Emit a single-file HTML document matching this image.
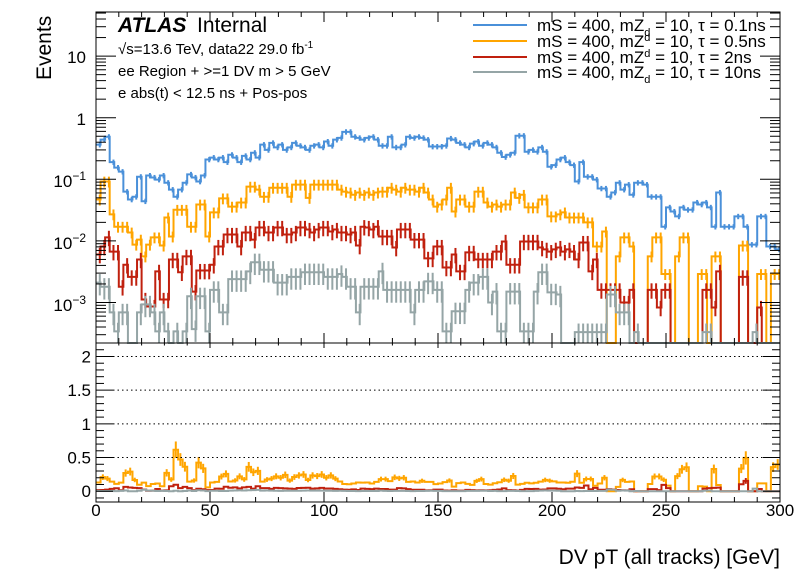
<!DOCTYPE html>
<html><head><meta charset="utf-8"><style>
body{margin:0;background:#fff;}
svg{display:block;font-family:"Liberation Sans",sans-serif;}
</style></head><body>
<svg id="c" width="796" height="572" viewBox="0 0 796 572" xmlns="http://www.w3.org/2000/svg"></svg>
<script>
const binWidth = 2;
const xTicks = [0,50,100,150,200,250,300];
const ratioTicks = [0,0.5,1,1.5,2];
const ratioTickLabels = ["0","0.5","1","1.5","2"];
const seriesNames = ["mS = 400, mZ_d = 10, τ = 0.1ns","mS = 400, mZd = 10, τ = 0.5ns","mS = 400, mZd = 10, τ = 2ns","mS = 400, mZd = 10, τ = 10ns"];
const blue = [0.365,0.44,0.49,0.19,0.155,0.133,0.063,0.047,0.052,0.11,
0.044,0.115,0.107,0.099,0.115,0.088,0.068,0.052,0.068,0.088,
0.12,0.107,0.092,0.115,0.21,0.225,0.21,0.225,0.19,0.25,
0.225,0.19,0.24,0.21,0.27,0.225,0.365,0.30,0.39,0.33,
0.365,0.30,0.33,0.39,0.35,0.33,0.30,0.35,0.365,0.33,
0.41,0.35,0.44,0.47,0.59,0.59,0.49,0.47,0.44,0.47,
0.49,0.44,0.35,0.35,0.49,0.33,0.33,0.365,0.49,0.47,
0.49,0.47,0.44,0.34,0.34,0.34,0.35,0.46,0.44,0.39,
0.365,0.33,0.38,0.41,0.35,0.39,0.365,0.33,0.27,0.23,
0.25,0.27,0.51,0.51,0.28,0.30,0.28,0.33,0.28,0.16,
0.17,0.21,0.225,0.19,0.17,0.092,0.19,0.11,0.11,0.099,
0.071,0.071,0.052,0.061,0.088,0.068,0.082,0.056,0.088,0.088,
0.082,0.052,0.052,0.052,0.017,0.035,0.030,0.025,0.035,0.032,
0.032,0.042,0.039,0.042,0.035,0.017,0.061,0.017,0.017,0.017,
0.025,0.025,0.017,0.0087,0.0087,0.025,0.025,0.0081,0.0081,0.0073];
const orange = [0.047,0.092,0.092,0.027,0.017,0.017,0.017,0.0137,0.0087,0.0105,
0.0056,0.0087,0.0114,0.0114,0.0084,0.024,0.0118,0.032,0.032,0.032,
0.017,0.017,0.039,0.039,0.0118,0.029,0.029,0.049,0.049,0.036,
0.036,0.042,0.042,0.076,0.076,0.068,0.052,0.052,0.073,0.073,
0.073,0.073,0.052,0.082,0.082,0.082,0.050,0.082,0.082,0.082,
0.082,0.082,0.082,0.068,0.063,0.061,0.056,0.061,0.056,0.061,
0.056,0.061,0.063,0.063,0.073,0.068,0.063,0.073,0.068,0.068,
0.063,0.073,0.061,0.047,0.036,0.039,0.047,0.073,0.030,0.047,
0.047,0.036,0.036,0.063,0.063,0.042,0.036,0.039,0.036,0.039,
0.039,0.061,0.050,0.056,0.035,0.035,0.035,0.047,0.047,0.025,
0.025,0.027,0.029,0.024,0.024,0.024,0.024,0.020,0.020,0.0081,
0.0081,0.0142,0,0,0.0056,0.0114,0.0114,0.0081,0,0,
0,0.0056,0.0114,0.0114,0.0029,0.0029,0,0.0056,0.0114,0.0114,
0,0,0.0029,0.0029,0,0.0056,0.0056,0,0,0,
0,0.0084,0.0084,0,0,0.0029,0.0029,0,0.0029,0.0029];
const red = [0.0060,0.0081,0.0114,0.0067,0.0067,0.0018,0.0041,0.0026,0.0026,0.0050,
0.00112,0.00086,0.00086,0.0032,0.00112,0.00112,0.0050,0.0050,0.0031,0.0056,
0.0056,0.0015,0.0033,0.0033,0.0033,0.0041,0.0081,0.0081,0.0127,0.0127,
0.0127,0.0081,0.0137,0.0137,0.0105,0.0165,0.0165,0.0137,0.0137,0.0165,
0.0165,0.0127,0.0127,0.0137,0.0165,0.0165,0.0153,0.0137,0.0153,0.0165,
0.0165,0.0142,0.0153,0.0137,0.0137,0.0127,0.0137,0.0084,0.017,0.0165,
0.0153,0.017,0.0118,0.0118,0.0118,0.0078,0.0153,0.0153,0.0153,0.0105,
0.0105,0.0105,0.0052,0.0052,0.0081,0.0081,0.0037,0.0037,0.0060,0.0032,
0.0032,0.0065,0.0065,0.0050,0.0050,0.0050,0.0050,0.0067,0.0067,0.0098,
0.0041,0.0041,0.0041,0.0098,0.0098,0.0098,0.0098,0.0078,0.0073,0.0067,
0.0073,0.0078,0.0067,0.0073,0.0067,0.0050,0.0094,0.0094,0.0032,0.0050,
0.0016,0.0016,0.0016,0.0016,0.0016,0.0010,0.0010,0.0016,0,0,
0,0.0016,0.0016,0.00083,0.0016,0.0016,0,0,0,0,
0,0,0,0.0016,0.0016,0.00083,0.0032,0,0,0,
0,0.0026,0.0026,0,0,0.00083,0,0,0,0];
const gray = [0.0021,0.0018,0.0018,0.00069,0.00034,0.00069,0.00069,0,0,0.00069,
0.00093,0.00093,0.00069,0.00034,0.00069,0.00034,0,0.00034,0,0.00034,
0.00126,0.00037,0.00126,0.00126,0.00034,0.0016,0.0016,0.00069,0.00069,0.0024,
0.0024,0.0024,0.0024,0.0032,0.0045,0.0045,0.0034,0.0034,0.0034,0.0021,
0.0021,0.0021,0.0026,0.0026,0.0026,0.0031,0.0031,0.0031,0.0031,0.0031,
0.0026,0.0026,0.0026,0.0029,0.0026,0.0018,0.0018,0.00069,0.0018,0.0018,
0.0018,0.0018,0.0032,0.0016,0.0016,0.0016,0.0016,0.0016,0.0016,0.00069,
0.0016,0.0016,0.0022,0.0022,0.0016,0.0016,0.00034,0.00034,0.00072,0.00072,
0.00072,0.0016,0.0021,0.0021,0.0026,0.0026,0.0010,0.0015,0.00034,0.00034,
0.0015,0.0015,0.0015,0.00034,0.00034,0.00034,0.0015,0.0031,0.0031,0.00146,
0.00146,0.00135,0,0,0,0.00033,0.00033,0.00033,0.00033,0.00033,
0.00033,0.00033,0.00135,0.00135,0.00069,0.00069,0.00069,0,0.00033,0,
0,0,0,0,0,0,0,0,0,0,
0,0,0,0.00033,0.00033,0,0,0,0,0,
0,0,0,0,0.00033,0,0,0,0,0];
const relErrors = [0.1,0.2,0.28,0.38];

const NS="http://www.w3.org/2000/svg", svg=document.getElementById('c');
function mk(tag,at,parent){const e=document.createElementNS(NS,tag);for(const k in at)e.setAttribute(k,at[k]);(parent||svg).appendChild(e);return e;}
const X0=96,X1=780,T0=12,T1=343,R0=343,R1=502;
const sx=v=>X0+(v-0)/300*(X1-X0);
const Ymin=Math.log10(2.2e-4),Ymax=Math.log10(52);
const sy=v=>{if(v<=0)return T1;const y=T1-(Math.log10(v)-Ymin)/(Ymax-Ymin)*(T1-T0);return Math.max(T0,Math.min(T1,y));};
const rmin=-0.16,rmax=2.2;
const sr=v=>{const y=R1-(v-rmin)/(rmax-rmin)*(R1-R0);return Math.max(R0,Math.min(R1,y));};
const colors=["#4a90d9","#ffa500","#c0200e","#95a5a6"];
const data=[blue,orange,red,gray];

data.forEach((arr,s)=>{
  const g=mk('g',{});
  
  
  let d='';
  arr.forEach((v,i)=>{const xa=sx(i*binWidth),xb=sx((i+1)*binWidth),y=sy(v);
    d+=(i===0?'M'+xa+' '+y:'L'+xa+' '+y)+'L'+xb+' '+y;});
  const p=mk('path',{d:d,fill:'none',stroke:colors[s],'stroke-width':2},g);
  
  
  arr.forEach((v,i)=>{if(v<=0)return;const xc=sx((i+0.5)*binWidth)+1.5;const e=relErrors[s];
    const l=mk('line',{x1:xc,x2:xc,y1:sy(v*(1+e)),y2:sy(v*(1-e)),stroke:colors[s],'stroke-width':2},g);
    
    });
});
[1,2,3].forEach(s=>{
  const arr=data[s];
  const g=mk('g',{});
  
  
  let d='';
  arr.forEach((v,i)=>{const r=blue[i]>0?v/blue[i]:0;const xa=sx(i*binWidth),xb=sx((i+1)*binWidth),y=sr(r);
    d+=(i===0?'M'+xa+' '+y:'L'+xa+' '+y)+'L'+xb+' '+y;});
  const p=mk('path',{d:d,fill:'none',stroke:colors[s],'stroke-width':2},g);
  
  
  arr.forEach((v,i)=>{const r=blue[i]>0?v/blue[i]:0;if(r<=0.15)return;const xc=sx((i+0.5)*binWidth);const e=relErrors[s]*r;
    const l=mk('line',{x1:xc,x2:xc,y1:sr(r+e),y2:sr(r-e),stroke:colors[s],'stroke-width':2},g);
    
    });
});
const ax=mk('g',{stroke:'#000','stroke-width':1,fill:'none'});


mk('rect',{x:X0,y:T0,width:X1-X0,height:T1-T0},ax);
mk('rect',{x:X0,y:R0,width:X1-X0,height:R1-R0},ax);
for(let v=0;v<=300;v+=10){const x=sx(v),L=v%50===0?10:5;
  mk('line',{x1:x,x2:x,y1:T1,y2:T1-L},ax);mk('line',{x1:x,x2:x,y1:T0,y2:T0+L},ax);
  mk('line',{x1:x,x2:x,y1:R1,y2:R1-L},ax);mk('line',{x1:x,x2:x,y1:R0,y2:R0+L/2},ax);}
for(let e=-4;e<=1;e++){for(let m=1;m<=9;m++){const v=m*Math.pow(10,e);const y=sy(v);if(y<=T0||y>=T1)continue;const L=m===1?20:10;
  mk('line',{x1:X0,x2:X0+L,y1:y,y2:y},ax);mk('line',{x1:X1,x2:X1-L,y1:y,y2:y},ax);}}
for(let k=-1;k<=22;k++){const v=k/10,y=sr(v);if(y<=R0||y>=R1)continue;const L=k%5===0?17:8;
  mk('line',{x1:X0,x2:X0+L,y1:y,y2:y},ax);mk('line',{x1:X1,x2:X1-L,y1:y,y2:y},ax);}
ratioTicks.forEach((v,i)=>{const y=sr(v);
  if(v>0){const gl=mk('line',{x1:113,x2:X1,y1:y,y2:y,stroke:'#000','stroke-dasharray':'1.5,3'});
    
    }
  const t=mk('text',{x:91,y:y+6,'text-anchor':'end','font-size':17});t.textContent=ratioTickLabels[i];
  
  });
xTicks.forEach(v=>{const t=mk('text',{x:sx(v),y:516,'text-anchor':'middle','font-size':17});t.textContent=String(v);
  
  });
</script>
<div style="position:absolute;left:0;top:0;width:796px;height:572px;pointer-events:none;font-family:'Liberation Sans',sans-serif;">
<svg width="796" height="572" style="position:absolute;left:0;top:0" xmlns="http://www.w3.org/2000/svg">
 <g font-size="17" text-anchor="end">
  <text x="86" y="63">10</text>
  <text x="86" y="125">1</text>
  <text x="86" y="187">10<tspan dy="-7" font-size="12">−1</tspan></text>
  <text x="86" y="249">10<tspan dy="-7" font-size="12">−2</tspan></text>
  <text x="86" y="311">10<tspan dy="-7" font-size="12">−3</tspan></text>
 </g>
 <text transform="translate(51,80) rotate(-90)" font-size="21">Events</text>
 <text x="780" y="564" text-anchor="end" font-size="21">DV pT (all tracks) [GeV]</text>
 <g>
  <text x="118" y="32" font-size="21" font-weight="bold" font-style="italic">ATLAS</text>
  <text x="197" y="32" font-size="21">Internal</text>
 </g>
 <text x="118" y="54" font-size="15">√s=13.6 TeV, data22 29.0 fb<tspan dy="-6" font-size="10">-1</tspan></text>
 <text x="118" y="76" font-size="15">ee Region + &gt;=1 DV m &gt; 5 GeV</text>
 <text x="118" y="98" font-size="15">e abs(t) &lt; 12.5 ns + Pos-pos</text>
 <g font-size="17">
  <g><line x1="473" x2="527" y1="25" y2="25" stroke="#4a90d9" stroke-width="2"/><text x="537" y="31">mS = 400, mZ<tspan dy="5" font-size="11">d</tspan><tspan dy="-5"> = 10, τ = 0.1ns</tspan></text></g>
  <g><line x1="473" x2="527" y1="41" y2="41" stroke="#ffa500" stroke-width="2"/><text x="537" y="47">mS = 400, mZ<tspan dy="-6" font-size="11">d</tspan><tspan dy="6"> = 10, τ = 0.5ns</tspan></text></g>
  <g><line x1="473" x2="527" y1="57" y2="57" stroke="#c0200e" stroke-width="2"/><text x="537" y="63">mS = 400, mZ<tspan dy="-6" font-size="11">d</tspan><tspan dy="6"> = 10, τ = 2ns</tspan></text></g>
  <g><line x1="473" x2="527" y1="72" y2="72" stroke="#95a5a6" stroke-width="2"/><text x="537" y="78">mS = 400, mZ<tspan dy="5" font-size="11">d</tspan><tspan dy="-5"> = 10, τ = 10ns</tspan></text></g>
 </g>
</svg>
</div>
</body></html>
